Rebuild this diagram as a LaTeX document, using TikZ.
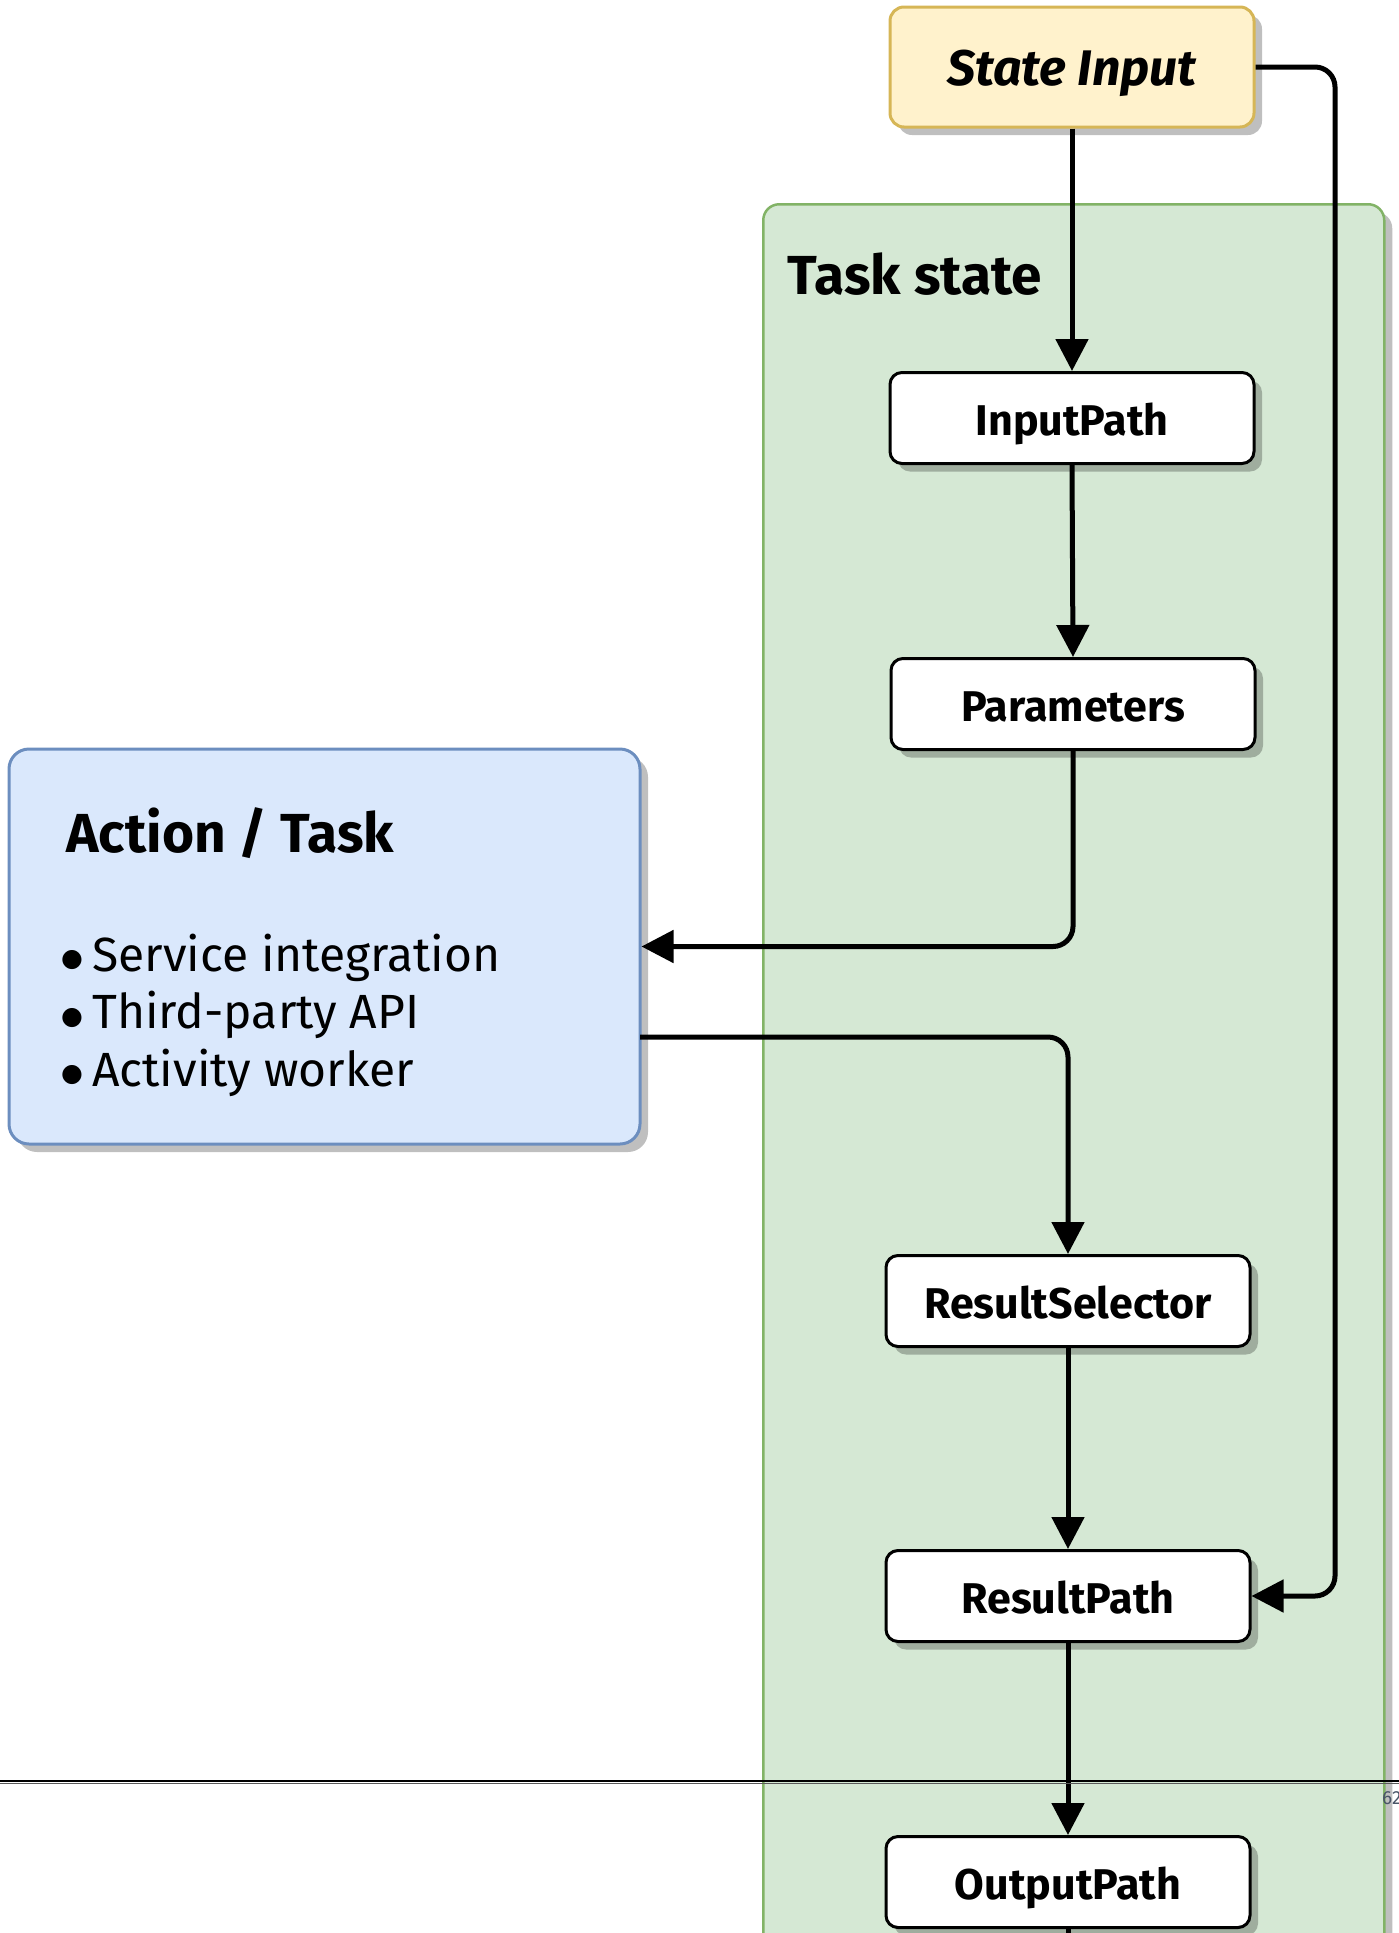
\documentclass[tikz,border=0pt]{standalone}
\usepackage{fontspec}
\setmainfont{Fira Sans}
\newfontfamily\djvfont{DejaVu Sans}
\usetikzlibrary{arrows.meta,shadows}
\definecolor{inFill}{HTML}{FFF2CC}
\definecolor{inLine}{HTML}{D6B656}
\definecolor{grFill}{HTML}{D5E8D4}
\definecolor{grLine}{HTML}{82B366}
\definecolor{blFill}{HTML}{DAE8FC}
\definecolor{blLine}{HTML}{6C8EBF}
\definecolor{pgnum}{HTML}{4A5568}
\newcommand{\bigbul}{\makebox[32pt][l]{\hspace{1pt}\raisebox{4.5pt}{\djvfont\fontsize{25}{25}\selectfont ●}}}
\begin{document}
\begin{tikzpicture}[x=1pt,y=-1pt,
  shade8/.style={drop shadow={shadow xshift=8pt,shadow yshift=-8pt,fill=black,opacity=0.25}},
  procbox/.style={draw=black,line width=3pt,fill=white,rounded corners=12pt,
    minimum width=364pt,minimum height=91pt,inner sep=0pt,shade8,
    text height=34pt,text depth=0pt,
    font=\fontsize{43}{50}\selectfont\bfseries},
  arr/.style={line width=5pt,-{Triangle[length=32pt,width=32pt]},rounded corners=20pt},
  plainline/.style={line width=5pt}]
\useasboundingbox (0,0) rectangle (1399,1933);
% container
\node[draw=grLine,fill=grFill,line width=2.5pt,rounded corners=16pt,shade8,
  minimum width=621pt,minimum height=1800pt,anchor=north west,inner sep=0pt] (cont) at (762,203) {};
\node[anchor=west,font=\fontsize{55}{60}\selectfont\bfseries] (tslabel) at (784,274) {Task state};
% state input
\node[draw=inLine,fill=inFill,line width=3pt,rounded corners=14pt,shade8,
  minimum width=364pt,minimum height=120pt,inner sep=0pt,text height=36.5pt,text depth=0pt,
  font=\fontsize{50}{56}\selectfont\bfseries\itshape] (si) at (1072,67) {State Input};
% steps
\node[procbox] (ip) at (1072,418) {InputPath};
\node[procbox] (par) at (1073,704) {Parameters};
\node[procbox] (rs) at (1068,1301) {ResultSelector};
\node[procbox] (rp) at (1068,1596) {ResultPath};
\node[procbox] (op) at (1068,1882) {OutputPath};
% action box
\node[draw=blLine,fill=blFill,line width=3pt,rounded corners=20pt,shade8,
  minimum width=631pt,minimum height=395pt,inner sep=0pt] (act) at (324.5,946.5) {};
\node[anchor=west,font=\fontsize{55}{60}\selectfont\bfseries] (acttitle) at (63,833) {Action / Task};
\node[anchor=base west,inner sep=0pt,align=left,font=\fontsize{48}{57.5}\selectfont] (bullets) at (60,1086)
  {\bigbul Service integration\\\bigbul Third-party API\\\bigbul Activity worker};
% connectors
\coordinate (loop) at (1335,1596);
\coordinate (actout) at (640,1037);
\coordinate (offpage) at (1068,1990);
\draw[arr] (si.south) -- (ip.north);
\draw[arr] (ip.south) -- (par.north);
\draw[arr] (par.south) |- (act.east);
\draw[arr] (actout) -| (rs.north);
\draw[arr] (rs.south) -- (rp.north);
\draw[arr] (si.east) -| (loop) -- (rp.east);
\draw[arr] (rp.south) -- (op.north);
\draw[plainline] (op.south) -- (offpage);
% page rule
\draw[line width=1pt,black!65] (0,1783.5) -- (1399,1783.5);
\draw[line width=2.5pt] (0,1781) -- (1399,1781);
\node[anchor=west,text=pgnum,font=\fontsize{19}{21}\selectfont,inner sep=0pt] (pnum) at (1382,1798) {62};
\end{tikzpicture}
\end{document}
